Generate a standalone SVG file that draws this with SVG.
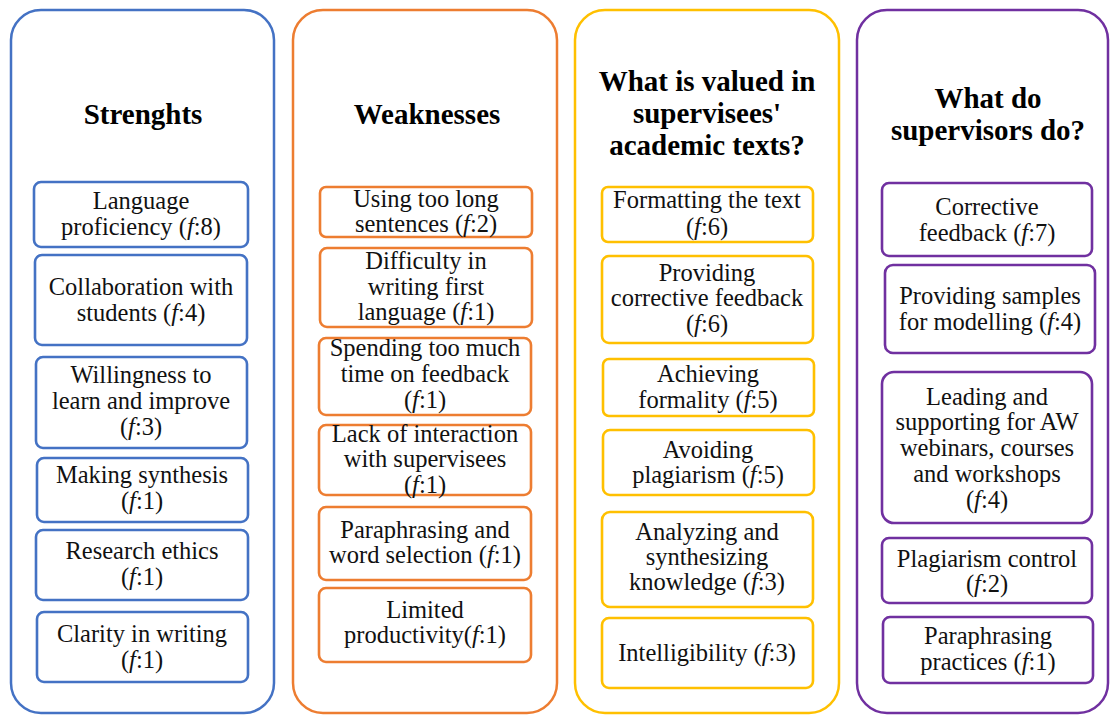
<svg xmlns="http://www.w3.org/2000/svg" width="1110" height="715" viewBox="0 0 1110 715">
<style>
.bg{fill:#fff}
.outer{fill:#fff;stroke-width:2.5}
.inner{fill:#fff;stroke-width:2.6}
.blue{stroke:#4472C4}
.orange{stroke:#ED7D31}
.yellow{stroke:#FFC000}
.purple{stroke:#7030A0}
.title{font-weight:bold;font-size:29px;fill:#000;text-anchor:middle}
.t{font-size:24.5px;fill:#111;text-anchor:middle}
.i{font-style:italic}
</style>
<rect class="bg" x="0" y="0" width="1110" height="715"/>

<g id="col-strengths">
<rect class="outer blue" x="11" y="10" width="263" height="703" rx="30"/>
<text class="title" font-family="Liberation Serif, serif" x="143" y="124">Strenghts</text>
</g>
<g id="s1"><rect class="inner blue" x="34" y="182" width="214" height="65" rx="7"/>
<text class="t" font-family="Liberation Serif, serif" x="141" y="209">Language</text><text class="t" font-family="Liberation Serif, serif" x="141" y="235">proficiency (<tspan class="i">f</tspan>:8)</text></g>
<g id="s2"><rect class="inner blue" x="35" y="255" width="212" height="90" rx="7"/>
<text class="t" font-family="Liberation Serif, serif" x="141" y="295">Collaboration with</text><text class="t" font-family="Liberation Serif, serif" x="141" y="321">students (<tspan class="i">f</tspan>:4)</text></g>
<g id="s3"><rect class="inner blue" x="36" y="357" width="211" height="91" rx="7"/>
<text class="t" font-family="Liberation Serif, serif" x="141" y="383">Willingness to</text><text class="t" font-family="Liberation Serif, serif" x="141" y="409">learn and improve</text><text class="t" font-family="Liberation Serif, serif" x="141" y="435">(<tspan class="i">f</tspan>:3)</text></g>
<g id="s4"><rect class="inner blue" x="37" y="458" width="211" height="64" rx="7"/>
<text class="t" font-family="Liberation Serif, serif" x="142" y="483">Making synthesis</text><text class="t" font-family="Liberation Serif, serif" x="142" y="509">(<tspan class="i">f</tspan>:1)</text></g>
<g id="s5"><rect class="inner blue" x="36" y="530" width="212" height="70" rx="7"/>
<text class="t" font-family="Liberation Serif, serif" x="142" y="559">Research ethics</text><text class="t" font-family="Liberation Serif, serif" x="142" y="585">(<tspan class="i">f</tspan>:1)</text></g>
<g id="s6"><rect class="inner blue" x="37" y="612" width="211" height="70" rx="7"/>
<text class="t" font-family="Liberation Serif, serif" x="142" y="642">Clarity in writing</text><text class="t" font-family="Liberation Serif, serif" x="142" y="668">(<tspan class="i">f</tspan>:1)</text></g>

<g id="col-weaknesses">
<rect class="outer orange" x="293" y="10" width="264" height="703" rx="30"/>
<text class="title" font-family="Liberation Serif, serif" x="427" y="124">Weaknesses</text>
</g>
<g id="w1"><rect class="inner orange" x="320" y="187" width="212" height="50" rx="6"/>
<text class="t" font-family="Liberation Serif, serif" x="426" y="207">Using too long</text><text class="t" font-family="Liberation Serif, serif" x="426" y="232">sentences (<tspan class="i">f</tspan>:2)</text></g>
<g id="w2"><rect class="inner orange" x="320" y="248" width="212" height="79" rx="7"/>
<text class="t" font-family="Liberation Serif, serif" x="426" y="269">Difficulty in</text><text class="t" font-family="Liberation Serif, serif" x="426" y="295">writing first</text><text class="t" font-family="Liberation Serif, serif" x="426" y="320">language (<tspan class="i">f</tspan>:1)</text></g>
<g id="w3"><rect class="inner orange" x="319" y="338" width="212" height="77" rx="7"/>
<text class="t" font-family="Liberation Serif, serif" x="425" y="356">Spending too much</text><text class="t" font-family="Liberation Serif, serif" x="425" y="382">time on feedback</text><text class="t" font-family="Liberation Serif, serif" x="425" y="408">(<tspan class="i">f</tspan>:1)</text></g>
<g id="w4"><rect class="inner orange" x="319" y="425" width="212" height="70" rx="7"/>
<text class="t" font-family="Liberation Serif, serif" x="425" y="442">Lack of interaction</text><text class="t" font-family="Liberation Serif, serif" x="425" y="467">with supervisees</text><text class="t" font-family="Liberation Serif, serif" x="425" y="493">(<tspan class="i">f</tspan>:1)</text></g>
<g id="w5"><rect class="inner orange" x="319" y="507" width="212" height="73" rx="7"/>
<text class="t" font-family="Liberation Serif, serif" x="425" y="538">Paraphrasing and</text><text class="t" font-family="Liberation Serif, serif" x="425" y="563">word selection (<tspan class="i">f</tspan>:1)</text></g>
<g id="w6"><rect class="inner orange" x="319" y="588" width="212" height="74" rx="7"/>
<text class="t" font-family="Liberation Serif, serif" x="425" y="618">Limited</text><text class="t" font-family="Liberation Serif, serif" x="425" y="643">productivity(<tspan class="i">f</tspan>:1)</text></g>

<g id="col-valued">
<rect class="outer yellow" x="575" y="10" width="264" height="703" rx="30"/>
<text class="title" font-family="Liberation Serif, serif" x="707" y="91">What is valued in</text>
<text class="title" font-family="Liberation Serif, serif" x="707" y="123">supervisees'</text>
<text class="title" font-family="Liberation Serif, serif" x="707" y="155">academic texts?</text>
</g>
<g id="v1"><rect class="inner yellow" x="602" y="187" width="211" height="55" rx="6"/>
<text class="t" font-family="Liberation Serif, serif" x="707" y="208">Formatting the text</text><text class="t" font-family="Liberation Serif, serif" x="707" y="235">(<tspan class="i">f</tspan>:6)</text></g>
<g id="v2"><rect class="inner yellow" x="602" y="256" width="211" height="87" rx="7"/>
<text class="t" font-family="Liberation Serif, serif" x="707" y="281">Providing</text><text class="t" font-family="Liberation Serif, serif" x="707" y="306">corrective feedback</text><text class="t" font-family="Liberation Serif, serif" x="707" y="332">(<tspan class="i">f</tspan>:6)</text></g>
<g id="v3"><rect class="inner yellow" x="603" y="359" width="211" height="57" rx="6"/>
<text class="t" font-family="Liberation Serif, serif" x="708" y="382">Achieving</text><text class="t" font-family="Liberation Serif, serif" x="708" y="408">formality (<tspan class="i">f</tspan>:5)</text></g>
<g id="v4"><rect class="inner yellow" x="603" y="430" width="211" height="65" rx="7"/>
<text class="t" font-family="Liberation Serif, serif" x="708" y="458">Avoiding</text><text class="t" font-family="Liberation Serif, serif" x="708" y="483">plagiarism (<tspan class="i">f</tspan>:5)</text></g>
<g id="v5"><rect class="inner yellow" x="602" y="512" width="211" height="95" rx="8"/>
<text class="t" font-family="Liberation Serif, serif" x="707" y="540">Analyzing and</text><text class="t" font-family="Liberation Serif, serif" x="707" y="565">synthesizing</text><text class="t" font-family="Liberation Serif, serif" x="707" y="590">knowledge (<tspan class="i">f</tspan>:3)</text></g>
<g id="v6"><rect class="inner yellow" x="602" y="618" width="211" height="70" rx="7"/>
<text class="t" font-family="Liberation Serif, serif" x="707" y="661">Intelligibility (<tspan class="i">f</tspan>:3)</text></g>

<g id="col-do">
<rect class="outer purple" x="857" y="10" width="251" height="703" rx="30"/>
<text class="title" font-family="Liberation Serif, serif" x="988" y="108">What do</text>
<text class="title" font-family="Liberation Serif, serif" x="988" y="140">supervisors do?</text>
</g>
<g id="d1"><rect class="inner purple" x="882" y="183" width="210" height="73" rx="7"/>
<text class="t" font-family="Liberation Serif, serif" x="987" y="215">Corrective</text><text class="t" font-family="Liberation Serif, serif" x="987" y="241">feedback (<tspan class="i">f</tspan>:7)</text></g>
<g id="d2"><rect class="inner purple" x="885" y="265" width="210" height="88" rx="8"/>
<text class="t" font-family="Liberation Serif, serif" x="990" y="304">Providing samples</text><text class="t" font-family="Liberation Serif, serif" x="990" y="330">for modelling (<tspan class="i">f</tspan>:4)</text></g>
<g id="d3"><rect class="inner purple" x="882" y="372" width="210" height="151" rx="12"/>
<text class="t" font-family="Liberation Serif, serif" x="987" y="405">Leading and</text><text class="t" font-family="Liberation Serif, serif" x="987" y="430">supporting for AW</text><text class="t" font-family="Liberation Serif, serif" x="987" y="456">webinars, courses</text><text class="t" font-family="Liberation Serif, serif" x="987" y="482">and workshops</text><text class="t" font-family="Liberation Serif, serif" x="987" y="508">(<tspan class="i">f</tspan>:4)</text></g>
<g id="d4"><rect class="inner purple" x="882" y="538" width="210" height="65" rx="7"/>
<text class="t" font-family="Liberation Serif, serif" x="987" y="567">Plagiarism control</text><text class="t" font-family="Liberation Serif, serif" x="987" y="592">(<tspan class="i">f</tspan>:2)</text></g>
<g id="d5"><rect class="inner purple" x="883" y="617" width="210" height="66" rx="7"/>
<text class="t" font-family="Liberation Serif, serif" x="988" y="644">Paraphrasing</text><text class="t" font-family="Liberation Serif, serif" x="988" y="670">practices (<tspan class="i">f</tspan>:1)</text></g>
</svg>
